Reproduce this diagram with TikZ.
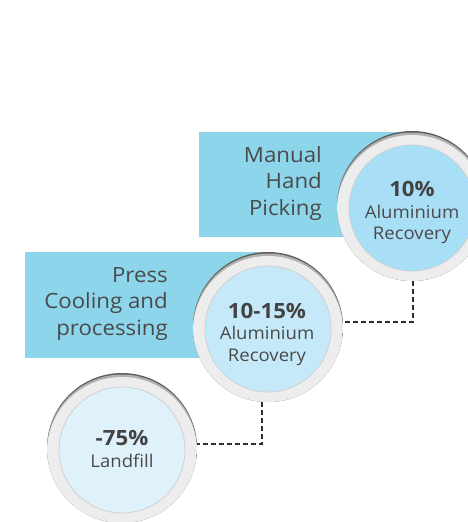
\documentclass[tikz,border=0pt]{standalone}
\usepackage{fontspec}
\setmainfont{Open Sans}[FakeStretch=1.06]
\definecolor{band}{HTML}{8DD5EA}
\definecolor{ringgray}{HTML}{EDEDED}
\definecolor{ringmid}{HTML}{B0B0B0}
\definecolor{ringdark}{HTML}{5E5E5E}
\definecolor{inA}{HTML}{A8DFF6}
\definecolor{inB}{HTML}{C6E9F9}
\definecolor{inC}{HTML}{DFF2FB}
\definecolor{txt}{HTML}{4A4A4A}
\definecolor{dashc}{HTML}{2E2E2E}
\begin{document}
\begin{tikzpicture}[x=1pt,y=-1pt,
  bandbox/.style={rectangle, fill=band, inner sep=0pt, anchor=north west},
  ring/.style={circle, minimum size=150pt, inner sep=0pt, fill=ringdark,
    path picture={
      \fill[ringmid] ([yshift=-1.5pt]path picture bounding box.center) circle (75pt);
      \fill[ringgray] ([yshift=-4pt]path picture bounding box.center) circle (75pt);}},
  disc/.style={circle, minimum size=126pt, inner sep=0pt, draw=ringmid!60, line width=0.8pt},
  bandtext/.style={anchor=base east, inner sep=0pt, text=txt, font=\fontsize{21}{24}\selectfont},
  bigtext/.style={anchor=base, inner sep=0pt, text=txt!90!black, font=\fontsize{21}{24}\selectfont\bfseries},
  smalltext/.style={anchor=base, inner sep=0pt, text=txt, font=\fontsize{17.5}{20}\selectfont},
  dashline/.style={draw=dashc, line width=1.8pt, dash pattern=on 4.5pt off 3.5pt}
]
\useasboundingbox (0,0) rectangle (468,522);
\clip (0,0) rectangle (468,522);

% bands
\node[bandbox, minimum width=213pt, minimum height=105pt] (r1) at (199,132) {};
\node[bandbox, minimum width=243pt, minimum height=106pt] (r2) at (25,252) {};

% band texts
\node[bandtext] (m1) at (322,162) {Manual};
\node[bandtext] (m2) at (322,188.5) {Hand};
\node[bandtext] (m3) at (322,215) {Picking};
\node[bandtext] (p1) at (168,282) {Press};
\node[bandtext] (p2) at (168,308.5) {Cooling and};
\node[bandtext] (p3) at (168,335) {processing};

% circles
\node[ring] (c1) at (412,206) {};
\node[disc, fill=inA] (d1) at (412,208) {};
\node[ring] (c2) at (268,327) {};
\node[disc, fill=inB] (d2) at (268,329) {};
\node[ring] (c3) at (122,448) {};
\node[disc, fill=inC] (d3) at (122,450) {};

% circle texts
\node[bigtext] (a1) at (412,196) {10\%};
\node[smalltext] (a2) at (412,218) {Aluminium};
\node[smalltext] (a3) at (412,239.5) {Recovery};
\node[bigtext] (b1) at (267,318) {10-15\%};
\node[smalltext] (b2) at (267,339.5) {Aluminium};
\node[smalltext] (b3) at (267,361) {Recovery};
\node[bigtext] (e1) at (122,445) {-75\%};
\node[smalltext] (e2) at (122,467) {Landfill};

% connectors
\coordinate (k1) at (413,322);
\coordinate (k2) at (262,444);
\draw[dashline] (c1.south -| k1) -- (k1) -- (k1 -| c2.east);
\draw[dashline] (c2.south -| k2) -- (k2) -- (k2 -| c3.east);
\end{tikzpicture}
\end{document}
